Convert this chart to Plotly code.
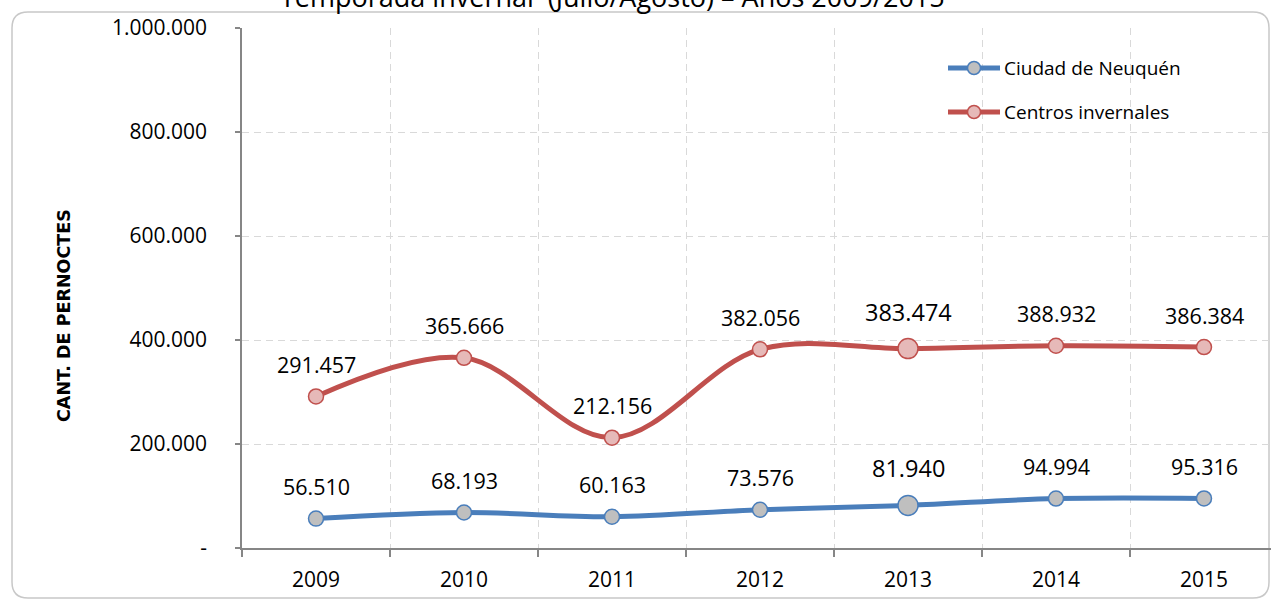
import plotly.graph_objects as go

years = ["2009", "2010", "2011", "2012", "2013", "2014", "2015"]
neuquen = [56510, 68193, 60163, 73576, 81940, 94994, 95316]
centros = [291457, 365666, 212156, 382056, 383474, 388932, 386384]
series_names = ["Ciudad de Neuquén", "Centros invernales"]
y_tickvals = [0, 200000, 400000, 600000, 800000, 1000000]
y_ticktext = ["-", "200.000", "400.000", "600.000", "800.000", "1.000.000"]
title_text = "Temporada invernal  (Julio/Agosto) – Años 2009/2015"
y_title = "CANT. DE PERNOCTES"

W, H = 1271, 600
ML, MR, MT, MB = 242, 0, 28, 52
PW, PH = W - ML - MR, H - MT - MB
FONT = "Open Sans"

def px(x):
    return (x - ML) / PW

def py(y):
    return (H - MB - y) / PH

def fmt(v):
    return f"{v:,}".replace(",", ".")

blue_line, blue_fill = "#4a7ebb", "#bfbfbf"
red_line, red_fill = "#c0504d", "#e6b9b8"
big_idx = years.index("2013")

xs = list(range(len(years)))
fig = go.Figure()
for vals, lc, fc, name in [(neuquen, blue_line, blue_fill, series_names[0]),
                           (centros, red_line, red_fill, series_names[1])]:
    sizes = [20 if i == big_idx else 15 for i in xs]
    fig.add_trace(go.Scatter(
        x=xs, y=vals, mode="lines+markers", name=name,
        line=dict(color=lc, width=5, shape="spline", smoothing=1.0),
        marker=dict(size=sizes, color=fc, opacity=1, line=dict(color=lc, width=1.5)),
        showlegend=False, hoverinfo="skip"))
    for i, v in enumerate(vals):
        big = i == big_idx
        fig.add_annotation(x=i, y=v, text=fmt(v), showarrow=False,
                           yshift=37 if big else 32,
                           font=dict(family=FONT, size=23.5 if big else 21.5, color="#000000"))

# custom legend
shapes = []
for k, (name, lc, fc) in enumerate([(series_names[0], blue_line, blue_fill),
                                     (series_names[1], red_line, red_fill)]):
    yy = 68 + 44 * k
    shapes.append(dict(type="line", xref="paper", yref="paper",
                       x0=px(948), x1=px(1000), y0=py(yy), y1=py(yy),
                       line=dict(color=lc, width=5), layer="above"))
    shapes.append(dict(type="circle", xref="paper", yref="paper",
                       xsizemode="pixel", ysizemode="pixel",
                       xanchor=px(974), yanchor=py(yy),
                       x0=-6.5, x1=6.5, y0=-6.5, y1=6.5,
                       fillcolor=fc, line=dict(color=lc, width=1.5), layer="above"))
    fig.add_annotation(xref="paper", yref="paper", x=px(1002), y=py(yy),
                       xanchor="left", yanchor="middle", showarrow=False,
                       text=name, font=dict(family=FONT, size=19, color="#000000"))

# x axis extension left of y axis (Excel crossing)
shapes.append(dict(type="line", xref="paper", yref="paper",
                   x0=px(235), x1=px(242), y0=0, y1=0,
                   line=dict(color="#868686", width=1.5)))

# rounded outer frame
L, T, R, B, r = 12, 12, 1269, 598, 16
path = (f"M {px(L+r)},{py(T)} L {px(R-r)},{py(T)} Q {px(R)},{py(T)} {px(R)},{py(T+r)} "
        f"L {px(R)},{py(B-r)} Q {px(R)},{py(B)} {px(R-r)},{py(B)} "
        f"L {px(L+r)},{py(B)} Q {px(L)},{py(B)} {px(L)},{py(B-r)} "
        f"L {px(L)},{py(T+r)} Q {px(L)},{py(T)} {px(L+r)},{py(T)} Z")
shapes.append(dict(type="path", xref="paper", yref="paper", path=path,
                   line=dict(color="#c8c8c8", width=1.5), layer="below"))

fig.add_annotation(xref="paper", yref="paper", x=px(612), y=py(-3),
                   xanchor="center", yanchor="middle", showarrow=False,
                   text=title_text, font=dict(family=FONT, size=27, color="#000000"))

fig.add_annotation(xref="paper", yref="paper", x=px(64), y=py(316),
                   xanchor="center", yanchor="middle", showarrow=False, textangle=-90,
                   text=f"<b>{y_title}</b>",
                   font=dict(family="DejaVu Sans", size=17.5, color="#000000"))

fig.update_layout(
    width=W, height=H,
    margin=dict(l=ML, r=MR, t=MT, b=MB, pad=0),
    paper_bgcolor="#ffffff", plot_bgcolor="#ffffff",
    shapes=shapes,
    font=dict(family=FONT, color="#000000"),
    xaxis=dict(range=[-0.5, -0.5 + PW / 148.0], tickvals=xs, ticktext=years,
               showgrid=False, ticks="", zeroline=False,
               showline=True, linecolor="#868686", linewidth=1.5,
               tickfont=dict(family=FONT, size=21, color="#000000"),
               ticklabelstandoff=12,
               minor=dict(tick0=-0.5, dtick=1, ticks="outside", ticklen=7,
                          tickcolor="#868686", tickwidth=1.5,
                          showgrid=True, gridcolor="#d9d9d9", gridwidth=1.3,
                          griddash="7px,5px")),
    yaxis=dict(range=[0, 1000000], tickvals=y_tickvals, ticktext=y_ticktext,
               showgrid=True, gridcolor="#d9d9d9", gridwidth=1.3, griddash="7px,5px",
               zeroline=False, showline=True, linecolor="#868686", linewidth=1.5,
               ticks="outside", ticklen=5, tickcolor="#868686", tickwidth=1.5,
               tickfont=dict(family=FONT, size=21, color="#000000"),
               ticklabelstandoff=24),
)

fig.write_html("out.html", config={"displayModeBar": False},
               post_script="document.body.style.margin='0';document.body.style.overflow='hidden';")
